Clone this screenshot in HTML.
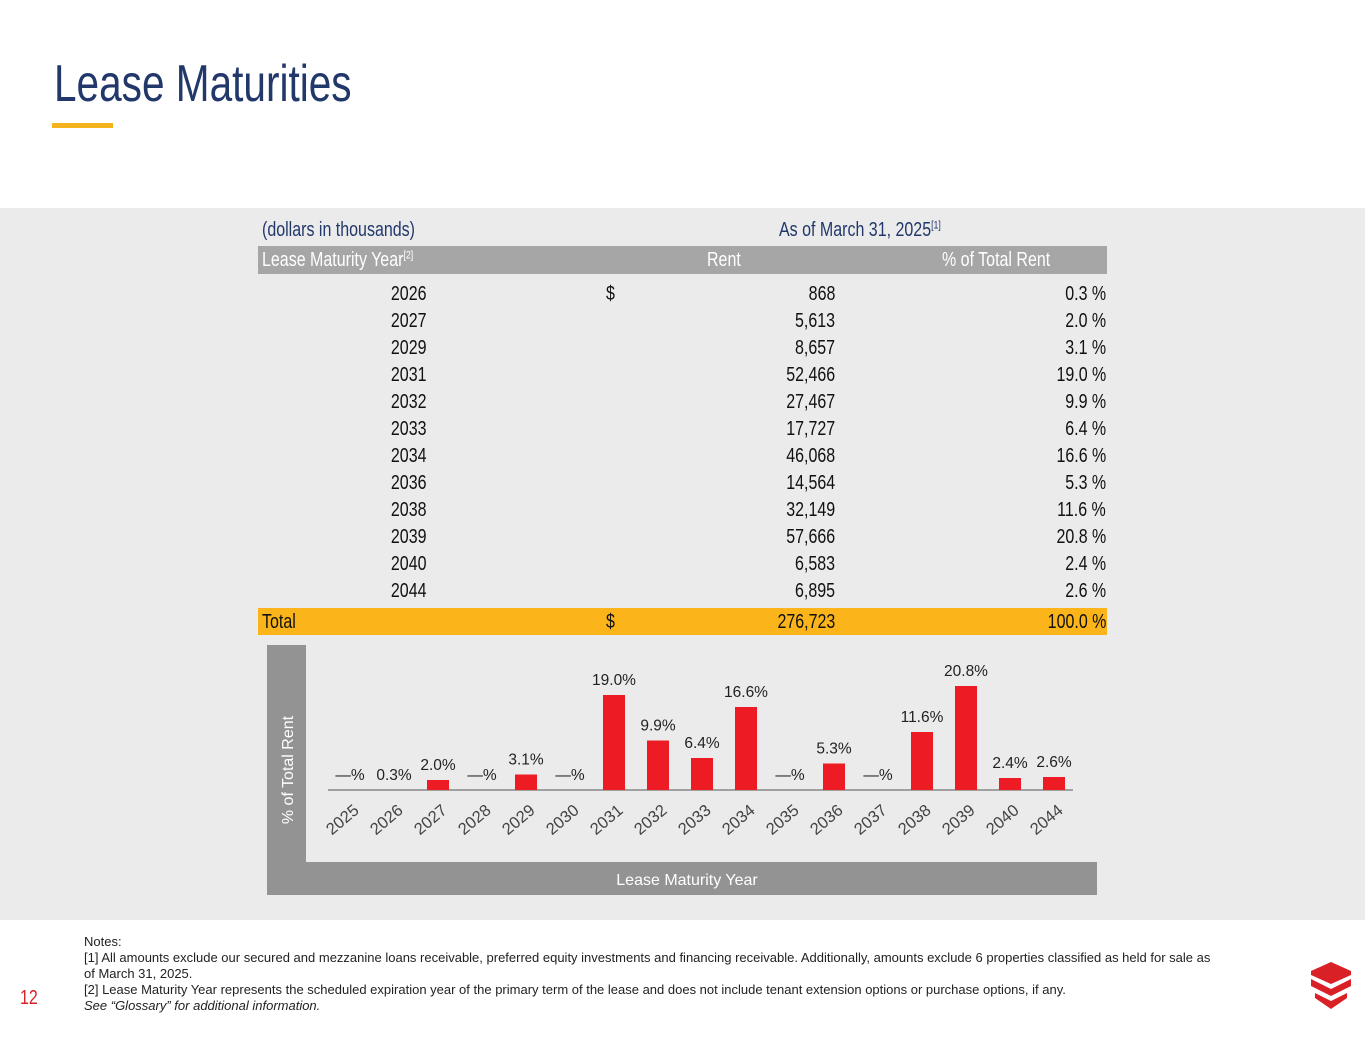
<!DOCTYPE html>
<html><head><meta charset="utf-8"><style>
body{margin:0;width:1365px;height:1055px;background:#fff;position:relative;overflow:hidden;font-family:"Liberation Sans",sans-serif}
#title{position:absolute;left:54px;top:54px;font-size:52px;color:#22386b;transform:scaleX(0.78);transform-origin:left top;white-space:nowrap}
#uline{position:absolute;left:52px;top:123px;width:61px;height:5px;background:#f5b31c}
#panel{position:absolute;left:0;top:208px;width:1365px;height:712px;background:#ebebeb}
.row{position:absolute;left:258px;width:849px;height:27px;font-size:20px;color:#111}
.row span{position:absolute;top:3px;white-space:nowrap;transform:scaleX(0.8)}
.L{transform-origin:left center}.R{transform-origin:right center}
.c1{right:681px}.c2{left:348px}.c3{right:272px}.c4{right:1px}
#notes{position:absolute;left:84px;top:934px;font-size:13px;line-height:16px;color:#222;width:1250px;white-space:nowrap}
#pg{position:absolute;left:20px;top:987px;font-size:20px;color:#d92027;transform:scaleX(0.8);transform-origin:left top}
</style></head><body>
<div id="title">Lease Maturities</div>
<div id="uline"></div>
<div id="panel"></div>
<div style="position:absolute;left:262px;top:219px;font-size:20px;color:#22386b;transform:scaleX(0.8);transform-origin:left top;white-space:nowrap">(dollars in thousands)</div>
<div style="position:absolute;left:779px;top:219px;font-size:20px;color:#22386b;transform:scaleX(0.8);transform-origin:left top;white-space:nowrap">As of March 31, 2025<sup style="font-size:11px">[1]</sup></div>
<div class="row" style="top:246px;height:28px;background:#a6a6a6;color:#fff">
<span class="L" style="left:4px">Lease Maturity Year<sup style="font-size:11px">[2]</sup></span><span class="L" style="left:449px">Rent</span><span class="L" style="left:684px">% of Total Rent</span></div>
<div id="rows"></div>
<div class="row" style="top:608px;background:#fbb41a">
<span class="L" style="left:4px">Total</span><span class="c2 L">$</span><span class="c3 R">276,723</span><span class="c4 R">100.0 %</span></div>
<svg id="chart" width="1365" height="1055" style="position:absolute;left:0;top:0">
<rect x="267" y="645" width="39" height="250" fill="#939393"/>
<rect x="267" y="862" width="830" height="33" fill="#939393"/>
<text x="293" y="770" transform="rotate(-90 293 770)" text-anchor="middle" fill="#fff" font-size="16">% of Total Rent</text>
<text x="687" y="885" text-anchor="middle" fill="#fff" font-size="16">Lease Maturity Year</text>
<line x1="328" y1="790" x2="1073" y2="790" stroke="#888" stroke-width="1.5"/>
<g id="marks"></g>
</svg>
<div id="notes">Notes:<br>[1] All amounts exclude our secured and mezzanine loans receivable, preferred equity investments and financing receivable. Additionally, amounts exclude 6 properties classified as held for sale as<br>of March 31, 2025.<br>[2] Lease Maturity Year represents the scheduled expiration year of the primary term of the lease and does not include tenant extension options or purchase options, if any.<br><i>See “Glossary” for additional information.</i></div>
<div id="pg">12</div>
<svg width="44" height="48" style="position:absolute;left:1309px;top:962px">
<polygon points="22,0 42,9 42,13 22,22 2,13 2,9" fill="#d92027"/>
<polygon points="2,17 22,27 42,17 42,24 22,34 2,24" fill="#d92027"/>
<polygon points="6,31 22,39 38,31 38,36 22,47 6,36" fill="#d92027"/>
</svg>
<script>
const tableYears=["2026","2027","2029","2031","2032","2033","2034","2036","2038","2039","2040","2044"];
const tableRent=["868","5,613","8,657","52,466","27,467","17,727","46,068","14,564","32,149","57,666","6,583","6,895"];
const tablePct=["0.3 %","2.0 %","3.1 %","19.0 %","9.9 %","6.4 %","16.6 %","5.3 %","11.6 %","20.8 %","2.4 %","2.6 %"];
const years=["2025","2026","2027","2028","2029","2030","2031","2032","2033","2034","2035","2036","2037","2038","2039","2040","2044"];
const values=[0,0.3,2.0,0,3.1,0,19.0,9.9,6.4,16.6,0,5.3,0,11.6,20.8,2.4,2.6];
const labels=["—%","0.3%","2.0%","—%","3.1%","—%","19.0%","9.9%","6.4%","16.6%","—%","5.3%","—%","11.6%","20.8%","2.4%","2.6%"];
const rows=document.getElementById('rows');
tableYears.forEach((y,i)=>{
 const d=document.createElement('div');d.className='row';d.style.top=(280+i*27)+'px';
 
 
 d.innerHTML='<span class="c1 R">'+y+'</span>'+(i==0?'<span class="c2 L">$</span>':'')+'<span class="c3 R">'+tableRent[i]+'</span><span class="c4 R">'+tablePct[i]+'</span>';
 rows.appendChild(d);
});
const NS='http://www.w3.org/2000/svg';
const g=document.getElementById('marks');
const xC=i=>350+i*44, yS=v=>790-v*5;
years.forEach((yr,i)=>{
 const x=xC(i),v=values[i];
 if(v>0.5){const r=document.createElementNS(NS,'rect');
  r.setAttribute('x',x-11);r.setAttribute('y',yS(v));r.setAttribute('width',22);r.setAttribute('height',790-yS(v));r.setAttribute('fill','#ed1c24');
  
  
  g.appendChild(r);}
 const t=document.createElementNS(NS,'text');
 t.setAttribute('x',x);t.setAttribute('y',(v>0.5?yS(v):790)-10);t.setAttribute('text-anchor','middle');t.setAttribute('font-size','15.5');t.setAttribute('fill','#222');
 t.textContent=labels[i];
 
 
 g.appendChild(t);
 const k=document.createElementNS(NS,'text');
 const kx=x+10,ky=812;
 k.setAttribute('x',kx);k.setAttribute('y',ky);k.setAttribute('text-anchor','end');k.setAttribute('font-size','16.5');k.setAttribute('fill','#444');
 k.setAttribute('transform','rotate(-40 '+kx+' '+ky+')');
 k.textContent=yr;
 
 
 g.appendChild(k);
});
</script>
</body></html>
